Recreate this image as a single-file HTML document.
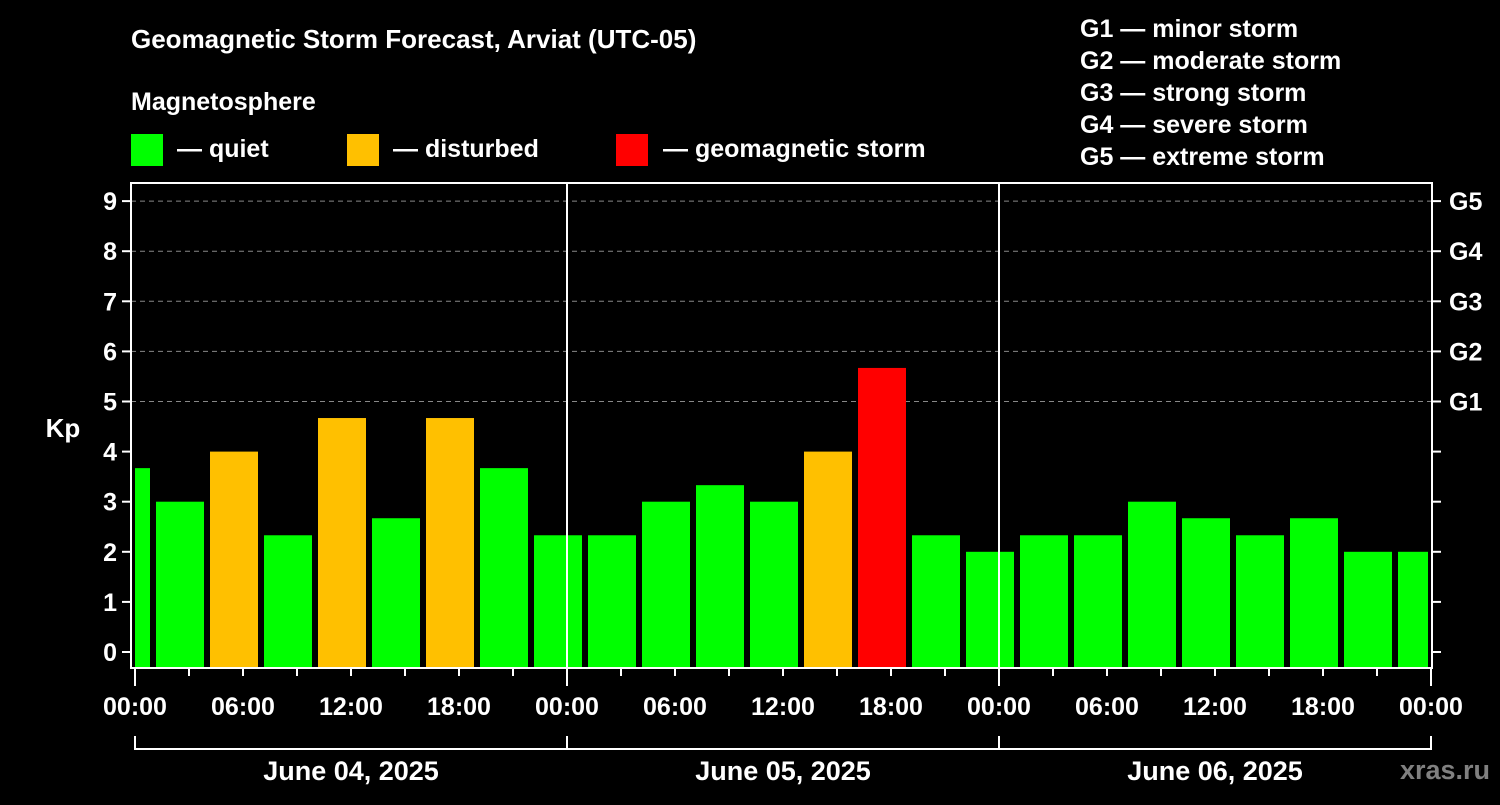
<!DOCTYPE html>
<html><head><meta charset="utf-8"><style>
body{margin:0;background:#000;width:1500px;height:800px;overflow:hidden}
text{font-family:"Liberation Sans",Arial,sans-serif;font-weight:bold;fill:#fff}
</style></head><body>
<svg id="chart" width="1500" height="800" xmlns="http://www.w3.org/2000/svg">
<text x="131" y="48" font-size="26">Geomagnetic Storm Forecast, Arviat (UTC-05)</text>
<text x="131" y="110" font-size="25">Magnetosphere</text>
<g><rect x="131" y="134" width="32" height="32" fill="#00ff00"/><text x="177" y="157" font-size="25">— quiet</text></g>
<g><rect x="347" y="134" width="32" height="32" fill="#ffc000"/><text x="393" y="157" font-size="25">— disturbed</text></g>
<g><rect x="616" y="134" width="32" height="32" fill="#ff0000"/><text x="663" y="157" font-size="25">— geomagnetic storm</text></g>
<g font-size="25">
<text x="1080" y="37">G1 — minor storm</text>
<text x="1080" y="69">G2 — moderate storm</text>
<text x="1080" y="101">G3 — strong storm</text>
<text x="1080" y="133">G4 — severe storm</text>
<text x="1080" y="165">G5 — extreme storm</text>
</g>
<text x="63" y="437" font-size="26" text-anchor="middle">Kp</text>
<text x="1490" y="779" font-size="27" text-anchor="end" style="fill:#808080">xras.ru</text>
<g id="grid"></g><g id="bars"></g><g id="axes"></g>
</svg>
<script>
const dayLabels=["June 04, 2025","June 05, 2025","June 06, 2025"];
const hourLabels=["00:00","06:00","12:00","18:00"];
const yTicks=[0,1,2,3,4,5,6,7,8,9];
const gLabels=["G1","G2","G3","G4","G5"];
// bar start hours (local, from first 00:00) and Kp values
const barStart=[-2,1,4,7,10,13,16,19,22,25,28,31,34,37,40,43,46,49,52,55,58,61,64,67,70];
const kpValues=[3.67,3,4,2.33,4.67,2.67,4.67,3.67,2.33,2.33,3,3.33,3,4,5.67,2.33,2,2.33,2.33,3,2.67,2.33,2.67,2,2];
const NS="http://www.w3.org/2000/svg";
const L=131,R=1432,T=183,B=668;
const x=h=>135+h*18;
const y=v=>652-v*50.1;
function el(p,tag,a){const e=document.createElementNS(NS,tag);for(const k in a)e.setAttribute(k,a[k]);p.appendChild(e);return e;}
const grid=document.getElementById('grid'),bars=document.getElementById('bars'),axes=document.getElementById('axes');
yTicks.forEach(v=>{
 if(v>=5){const g=el(grid,'line',{x1:L,x2:R,y1:y(v),y2:y(v),stroke:'#888','stroke-dasharray':'5,4','stroke-width':1});
 
 }
 el(axes,'line',{x1:L-9,x2:L,y1:y(v),y2:y(v),stroke:'#fff','stroke-width':2});
 el(axes,'line',{x1:R,x2:R+9,y1:y(v),y2:y(v),stroke:'#fff','stroke-width':2});
 const t=el(axes,'text',{x:L-14,y:y(v)+9,'font-size':25,'text-anchor':'end'});t.textContent=v;
 
 
});
gLabels.forEach((g,i)=>{const t=el(axes,'text',{x:R+17,y:y(i+5)+9,'font-size':25});t.textContent=g;
 
 });
barStart.forEach((h,i)=>{
 const v=kpValues[i];
 let x0=x(h)+3,x1=x(h+3)-3;
 x0=Math.max(x0,x(0));x1=Math.min(x1,x(72)-3);
 const c=v>=5?'#ff0000':v>=4?'#ffc000':'#00ff00';
 const r=el(bars,'rect',{x:x0,y:y(v),width:x1-x0,height:B-1-y(v),fill:c});
 
 
});
// day separators
[24,48].forEach(h=>el(axes,'line',{x1:x(h),x2:x(h),y1:T,y2:B,stroke:'#fff','stroke-width':2}));
el(axes,'rect',{x:L,y:T,width:R-L,height:B-T,fill:'none',stroke:'#fff','stroke-width':2});
for(let h=0;h<=72;h+=3){const big=h%24==0;el(axes,'line',{x1:x(h),x2:x(h),y1:B,y2:B+(big?18:8),stroke:'#fff','stroke-width':2});}
for(let h=0;h<=72;h+=6){const t=el(axes,'text',{x:x(h),y:715,'font-size':25,'text-anchor':'middle'});t.textContent=hourLabels[(h/6)%4];
 
 }
el(axes,'path',{d:`M${x(0)} 736V749H${x(72)}V736`,fill:'none',stroke:'#fff','stroke-width':2});
[24,48].forEach(h=>el(axes,'line',{x1:x(h),x2:x(h),y1:736,y2:749,stroke:'#fff','stroke-width':2}));
dayLabels.forEach((d,i)=>{const t=el(axes,'text',{x:x(24*i+12),y:780,'font-size':27,'text-anchor':'middle'});t.textContent=d;
 
 });
</script>
</body></html>
